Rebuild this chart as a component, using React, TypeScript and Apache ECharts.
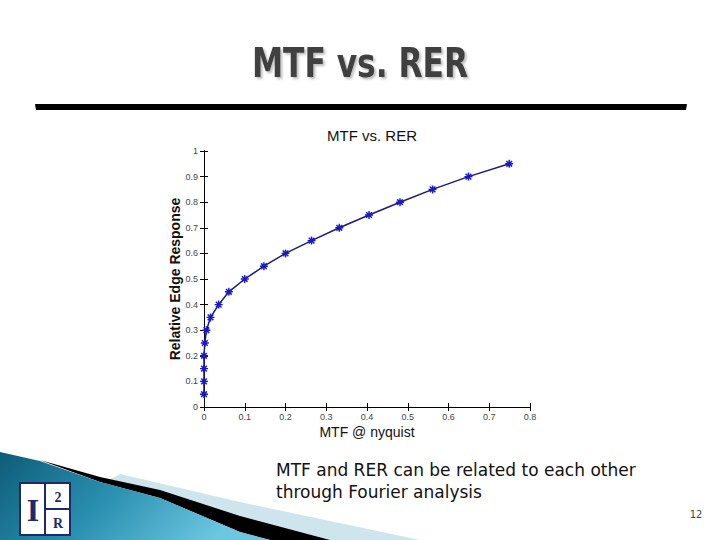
import React, { useEffect, useRef } from "react";
import * as echarts from "echarts";

// RER values (y) and read-off MTF @ nyquist values (x)
const rerValues = [0.05, 0.1, 0.15, 0.2, 0.25, 0.3, 0.35, 0.4, 0.45, 0.5, 0.55, 0.6, 0.65, 0.7, 0.75, 0.8, 0.85, 0.9, 0.95];
const mtfValues = [0, 0, 0, 0, 0.002, 0.006, 0.016, 0.036, 0.061, 0.1, 0.147, 0.2, 0.264, 0.332, 0.405, 0.481, 0.561, 0.649, 0.749];

const slideTitle = "MTF vs. RER";
const chartTitle = "MTF vs. RER";
const xAxisName = "MTF @ nyquist";
const yAxisName = "Relative Edge Response";
const bodyLines = ["MTF and RER can be related to each other", "through Fourier analysis"];
const pageNumber = "12";

const asterisk =
  "path://M4.1,0 L5.9,0 L5.9,10 L4.1,10 Z M0,4.1 L10,4.1 L10,5.9 L0,5.9 Z M0.8,2.1 L2.1,0.8 L9.2,7.9 L7.9,9.2 Z M7.9,0.8 L9.2,2.1 L2.1,9.2 L0.8,7.9 Z";

export default function App() {
  const ref = useRef<HTMLDivElement>(null);
  useEffect(() => {
    document.body.style.margin = "0";
    const chart = echarts.init(ref.current!, null, { renderer: "svg" });
    const data = rerValues.map((r, i) => [mtfValues[i], r]);
    const labelStyle = { fontFamily: "Liberation Sans", fontSize: 9, color: "#444" };
    chart.setOption({
      animation: false,
      backgroundColor: "#ffffff",
      title: {
        text: chartTitle,
        left: 367,
        top: 123,
        textAlign: "center",
        textStyle: { fontFamily: "Liberation Sans", fontSize: 15, fontWeight: "normal", color: "#111" },
      },
      grid: { left: 204, right: 190, top: 151, height: 256 },
      xAxis: [
        {
          type: "value",
          min: 0,
          max: 0.8,
          interval: 0.1,
          position: "bottom",
          name: xAxisName,
          nameLocation: "middle",
          nameGap: 18,
          nameTextStyle: { fontFamily: "Liberation Sans", fontSize: 14, color: "#111" },
          axisLine: { show: true, lineStyle: { color: "#000", width: 1 } },
          axisTick: { show: true, inside: true, length: 4, lineStyle: { color: "#000" } },
          axisLabel: { ...labelStyle, margin: 5 },
          splitLine: { show: false },
        },
        {
          type: "value",
          min: 0,
          max: 0.8,
          interval: 0.1,
          position: "top",
          axisLine: { show: true, lineStyle: { color: "#000", width: 1 } },
          axisTick: { show: true, inside: true, length: 4, lineStyle: { color: "#000" } },
          axisLabel: { show: false },
          splitLine: { show: false },
        },
      ],
      yAxis: [
        {
          type: "value",
          min: 0,
          max: 1,
          interval: 0.1,
          position: "left",
          name: yAxisName,
          nameLocation: "middle",
          nameGap: 22,
          nameTextStyle: { fontFamily: "Liberation Sans", fontSize: 14, fontWeight: "bold", color: "#111" },
          axisLine: { show: true, lineStyle: { color: "#000", width: 1 } },
          axisTick: { show: true, inside: true, length: 4, lineStyle: { color: "#000" } },
          axisLabel: { ...labelStyle, margin: 6 },
          splitLine: { show: false },
        },
        {
          type: "value",
          min: 0,
          max: 1,
          interval: 0.1,
          position: "right",
          axisLine: { show: true, lineStyle: { color: "#000", width: 1 } },
          axisTick: { show: true, inside: true, length: 4, lineStyle: { color: "#000" } },
          axisLabel: { show: false },
          splitLine: { show: false },
        },
      ],
      series: [
        {
          type: "line",
          data,
          xAxisIndex: 0,
          yAxisIndex: 0,
          symbol: asterisk,
          symbolSize: 8,
          showAllSymbol: true,
          lineStyle: { color: "#1a1a80", width: 1.5 },
          itemStyle: { color: "#1818c8" },
        },
      ],
      graphic: [
        // slide title
        {
          type: "text",
          x: 360,
          y: 63,
          scaleX: 0.87,
          style: {
            text: slideTitle,
            fontFamily: "DejaVu Sans Condensed",
            fontWeight: "bold",
            fontSize: 40,
            fill: "#404040",
            align: "center",
            verticalAlign: "middle",
            textShadowColor: "rgba(0,0,0,0.25)",
            textShadowOffsetX: 2,
            textShadowOffsetY: 2,
            textShadowBlur: 2,
          },
        },
        // rule under title
        { type: "polygon", shape: { points: [[35, 104], [687, 104], [686, 110], [36, 110]] }, style: { fill: "#000" } },
        // light blue band
        {
          type: "polygon",
          shape: { points: [[120, 474], [240, 502], [420, 540], [0, 540]] },
          style: { fill: "#cfe5ee" },
        },
        // black swoosh
        {
          type: "polygon",
          shape: {
            points: [
              [40, 460], [100, 477], [160, 490], [240, 516], [330, 540],
              [270, 540], [240, 532], [160, 498], [100, 482],
            ],
          },
          style: { fill: "#000" },
        },
        // teal swoosh
        {
          type: "polygon",
          shape: {
            points: [[0, 452], [40, 461], [100, 482], [160, 498], [240, 532], [270, 540], [0, 540]],
          },
          style: {
            fill: new echarts.graphic.LinearGradient(0, 0, 1, 0.3, [
              { offset: 0, color: "#0d5c78" },
              { offset: 0.5, color: "#2a8fb0" },
              { offset: 1, color: "#6cc6e0" },
            ]),
          },
        },
        // logo box
        { type: "rect", shape: { x: 20, y: 483, width: 50, height: 52 }, style: { fill: "#fff", stroke: "#1c2a6e", lineWidth: 2 } },
        { type: "line", shape: { x1: 45, y1: 483, x2: 45, y2: 535 }, style: { stroke: "#1c2a6e", lineWidth: 2 } },
        { type: "line", shape: { x1: 45, y1: 509, x2: 70, y2: 509 }, style: { stroke: "#1c2a6e", lineWidth: 2 } },
        {
          type: "text",
          x: 33,
          y: 510,
          style: { text: "I", fontFamily: "Liberation Serif", fontWeight: "bold", fontSize: 32, fill: "#1c2a6e", align: "center", verticalAlign: "middle" },
        },
        {
          type: "text",
          x: 58,
          y: 497,
          style: { text: "2", fontFamily: "Liberation Serif", fontWeight: "bold", fontSize: 14, fill: "#1c2a6e", align: "center", verticalAlign: "middle" },
        },
        {
          type: "text",
          x: 58,
          y: 523,
          style: { text: "R", fontFamily: "Liberation Serif", fontWeight: "bold", fontSize: 14, fill: "#1c2a6e", align: "center", verticalAlign: "middle" },
        },
        // body text
        {
          type: "text",
          x: 276,
          y: 470,
          style: { text: bodyLines[0], fontFamily: "DejaVu Sans", fontSize: 17, fill: "#111", verticalAlign: "middle" },
        },
        {
          type: "text",
          x: 276,
          y: 492,
          style: { text: bodyLines[1], fontFamily: "DejaVu Sans", fontSize: 17, fill: "#111", verticalAlign: "middle" },
        },
        {
          type: "text",
          x: 696,
          y: 514,
          style: { text: pageNumber, fontFamily: "DejaVu Sans Condensed", fontSize: 11, fill: "#444", align: "center", verticalAlign: "middle" },
        },
      ],
    });
    return () => chart.dispose();
  }, []);
  return <div ref={ref} style={{ position: "absolute", left: 0, top: 0, width: 720, height: 540 }} />;
}
